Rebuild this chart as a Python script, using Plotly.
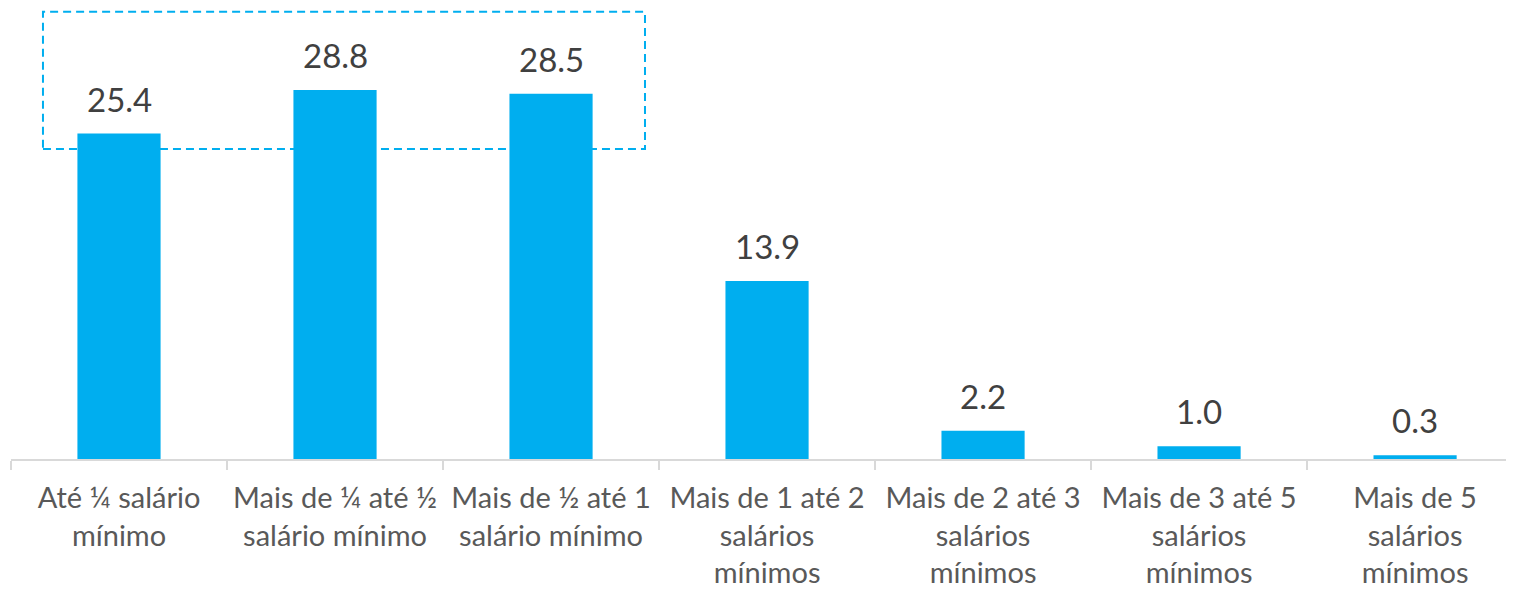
import plotly.graph_objects as go

categorias = [
    "Até ¼ salário<br>mínimo",
    "Mais de ¼ até ½<br>salário mínimo",
    "Mais de ½ até 1<br>salário mínimo",
    "Mais de 1 até 2<br>salários<br>mínimos",
    "Mais de 2 até 3<br>salários<br>mínimos",
    "Mais de 3 até 5<br>salários<br>mínimos",
    "Mais de 5<br>salários<br>mínimos",
]
valores = [25.4, 28.8, 28.5, 13.9, 2.2, 1.0, 0.3]
rotulos = ["%.1f" % v for v in valores]

azul = "#00AEEF"
fonte = "Lato"

fig = go.Figure()
fig.add_trace(go.Bar(
    x=categorias,
    y=valores,
    marker=dict(color=azul, line=dict(width=0)),
    width=0.385,
    hoverinfo="skip",
))

# rotulos de dados acima das barras
for c, v, t in zip(categorias, valores, rotulos):
    fig.add_annotation(
        x=c, y=v, text=t, showarrow=False,
        yanchor="bottom", yshift=13,
        font=dict(family=fonte, size=33, color="#404040"),
    )

# destaque tracejado das tres primeiras faixas
fig.add_shape(
    type="rect", xref="x", yref="y",
    x0=-0.352, x1=2.435, y0=24.2, y1=34.9,
    line=dict(color=azul, width=2, dash="8px,5px"),
)

# a pagina tem margem de 8px no body; compensado nas margens
fig.update_layout(
    width=1514, height=591,
    margin=dict(l=3, r=0, t=0, b=140),
    paper_bgcolor="white", plot_bgcolor="white",
    showlegend=False,
    xaxis=dict(
        type="category",
        range=[-0.5, 6.495],
        tickson="boundaries",
        ticks="outside", ticklen=9, tickcolor="#D9D9D9", tickwidth=2,
        showline=True, linecolor="#D9D9D9", linewidth=2,
        showgrid=False, zeroline=False,
        tickangle=0,
        ticklabelstandoff=12,
        tickfont=dict(family=fonte, size=29, color="#595959"),
    ),
    yaxis=dict(
        range=[0, 35.2],
        visible=False,
        showgrid=False, zeroline=False,
    ),
)

fig.write_html("out.html")
